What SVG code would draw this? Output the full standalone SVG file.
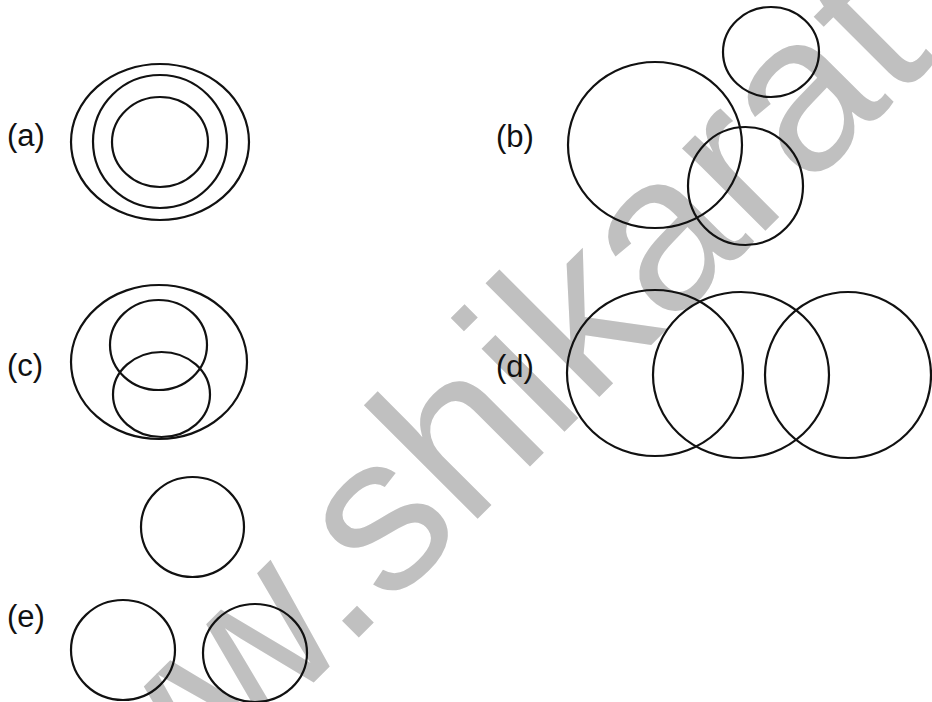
<svg xmlns="http://www.w3.org/2000/svg" width="932" height="702" viewBox="0 0 932 702">
  <style>
    .c { fill: none; stroke: #111; stroke-width: 2.2; }
    .lbl { font-family: "Liberation Sans", Arial, sans-serif; font-size: 31px; fill: #111; }
    .wm { font-family: "Liberation Sans", Arial, sans-serif; font-size: 222px; fill: #c0c0c0; }
  </style>
  <rect width="932" height="702" fill="#fff"/>
  <g id="watermark" transform="translate(367,613) rotate(-45)">
    <text class="wm" x="-512" y="11.5">www.shikarat.</text>
  </g>
  <g id="a">
    <text class="lbl" x="7" y="146">(a)</text>
    <ellipse class="c" cx="160" cy="142" rx="89" ry="78"/>
    <ellipse class="c" cx="160" cy="141.5" rx="67" ry="66.5"/>
    <ellipse class="c" cx="160" cy="142" rx="48" ry="45"/>
  </g>
  <g id="b">
    <text class="lbl" x="496" y="147">(b)</text>
    <ellipse class="c" cx="655" cy="145" rx="87" ry="83"/>
    <ellipse class="c" cx="771" cy="52" rx="48" ry="45"/>
    <ellipse class="c" cx="745.5" cy="186" rx="57.5" ry="59"/>
  </g>
  <g id="c">
    <text class="lbl" x="7" y="376">(c)</text>
    <ellipse class="c" cx="159" cy="362" rx="88" ry="77"/>
    <ellipse class="c" cx="158.5" cy="345" rx="48.5" ry="45"/>
    <ellipse class="c" cx="161.5" cy="394.5" rx="48.5" ry="42.5"/>
  </g>
  <g id="d">
    <text class="lbl" x="496" y="377">(d)</text>
    <ellipse class="c" cx="655" cy="373" rx="88" ry="83"/>
    <ellipse class="c" cx="741" cy="375" rx="88" ry="83"/>
    <ellipse class="c" cx="848" cy="375" rx="83" ry="83"/>
  </g>
  <g id="e">
    <text class="lbl" x="7" y="627">(e)</text>
    <ellipse class="c" cx="192.5" cy="527" rx="51.5" ry="50"/>
    <ellipse class="c" cx="123" cy="650" rx="52" ry="50"/>
    <ellipse class="c" cx="255" cy="653" rx="52" ry="49"/>
  </g>
  <g id="connectors"/>
</svg>
